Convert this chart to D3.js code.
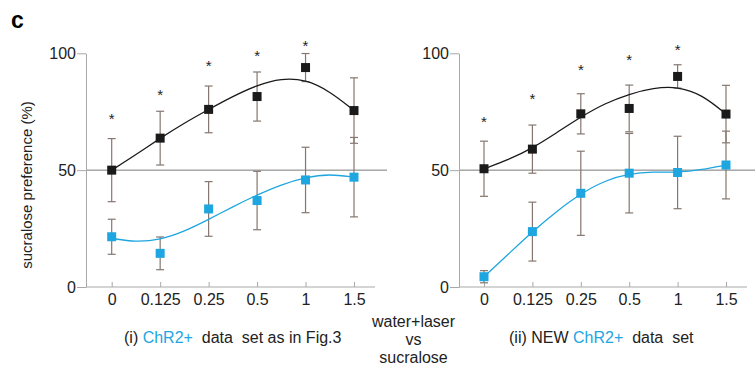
<!DOCTYPE html>
<html>
<head>
<meta charset="utf-8">
<script src="https://cdn.jsdelivr.net/npm/d3@7"></script>
<style>
  body { margin: 0; background: #fff; }
  svg { display: block; font-family: "Liberation Sans", Arial, sans-serif; }
</style>
</head>
<body>
<svg width="755" height="367"></svg>
<script>
// laser doses (x categories)
const doses = ['0', '0.125', '0.25', '0.5', '1', '1.5']

// panel (i): ChR2+ data set as in Fig.3
const blackI = [50, 63.7, 76, 81.5, 93.9, 75.5]
const blackIErr = [13.5, 11.5, 10, 10.5, 6, 14]
const blueI = [21.5, 14.4, 33.4, 37, 45.8, 47]
const blueIErr = [7.5, 7, 11.7, 12.5, 14, 17]
const starsI = [73.2, 83.6, 96, 100, 104.4]

// panel (ii): NEW ChR2+ data set
const blackII = [50.6, 59, 74.1, 76.4, 90.1, 74]
const blackIIErr = [11.8, 10.3, 8.6, 10, 5, 12.3]
const blueII = [4.4, 23.7, 40.1, 48.7, 49, 52.2]
const blueIIErr = [2.6, 12.6, 18, 17, 15.5, 14.5]
const starsII = [71.8, 81.8, 94.3, 98.4, 102.6]

const fitX = [0, 0.5, 1, 1.5, 2, 2.5, 3, 3.5, 4, 4.5, 5]
const blackFitI = [50, 56.6, 63.7, 70.2, 76, 81.6, 86.4, 89.3, 88.8, 83.8, 75.5]
const blueFitI = [20.8, 19.2, 20.2, 23.8, 28.9, 34.4, 39.4, 43.8, 47, 48.4, 47]
const blackFitII = [50.6, 54.4, 59.4, 66, 72.8, 78.6, 82.6, 85.2, 85.8, 82.4, 74]
const blueFitII = [4.4, 14, 23.7, 32.4, 40, 45.6, 48.5, 49.3, 49, 50.2, 52.2]

const yTicks = [0, 50, 100]

const svg = d3.select('svg')
const blue = '#1da6df'
const dark = '#1a1a1a'
const errColor = '#85776f'
const axisColor = '#a9a9a9'

const yScale = d3.scaleLinear().domain([0, 100]).range([287, 53.3])

// title letter
svg.append('text')
    .attr('x', 11).attr('y', 28)
    .attr('font-size', 23).attr('font-weight', 'bold')
    .text('c')

// y axis label
svg.append('text')
    .attr('transform', 'translate(32,185) rotate(-90)')
    .attr('text-anchor', 'middle')
    .attr('font-size', 15)
    .attr('fill', '#222')
    .text('sucralose preference (%)')

drawPanel({ axisX: 86, x0: 111.7, x1: 354, axisEnd: 375, refEnd: 387,
    black: blackI, blackErr: blackIErr, blue: blueI, blueErr: blueIErr,
    stars: starsI, blackFit: blackFitI, blueFit: blueFitI })
drawPanel({ axisX: 459, x0: 484, x1: 726, axisEnd: 747, refEnd: 755,
    black: blackII, blackErr: blackIIErr, blue: blueII, blueErr: blueIIErr,
    stars: starsII, blackFit: blackFitII, blueFit: blueFitII })

function drawPanel(p) {
    const xScale = d3.scaleLinear().domain([0, 5]).range([p.x0, p.x1])
    const g = svg.append('g')

    // 50% reference line
    g.append('line')
        .attr('x1', p.axisX).attr('x2', p.refEnd)
        .attr('y1', yScale(50)).attr('y2', yScale(50))
        .attr('stroke', '#7a7a7a').attr('stroke-width', 1)

    // y axis
    const yAxis = g.append('g')
        .attr('transform', `translate(${p.axisX},0)`)
        .call(d3.axisLeft(yScale).tickValues(yTicks).tickSize(9).tickSizeOuter(0).tickPadding(1))
    yAxis.selectAll('line, path').attr('stroke', axisColor)
    yAxis.selectAll('text').attr('font-size', 16).attr('font-family', null).attr('fill', '#222')

    // x axis
    g.append('line')
        .attr('x1', p.axisX).attr('x2', p.axisEnd)
        .attr('y1', yScale(0)).attr('y2', yScale(0))
        .attr('stroke', axisColor)
    const xAxis = g.append('g')
        .attr('transform', `translate(0,${yScale(0)})`)
        .call(d3.axisBottom(xScale).tickValues(d3.range(doses.length))
            .tickFormat(i => doses[i]).tickSize(-5).tickPadding(6.6))
    xAxis.select('.domain').remove()
    xAxis.selectAll('line').attr('stroke', axisColor)
    xAxis.selectAll('text').attr('font-size', 16).attr('font-family', null).attr('fill', '#222')

    // error bars
    const bars = []
    p.black.forEach((v, i) => bars.push({ i, v, e: p.blackErr[i] }))
    p.blue.forEach((v, i) => bars.push({ i, v, e: p.blueErr[i] }))
    const eb = g.selectAll('.err').data(bars).enter().append('g')
        .attr('stroke', errColor).attr('stroke-width', 1.2)
    eb.append('line')
        .attr('x1', d => xScale(d.i)).attr('x2', d => xScale(d.i))
        .attr('y1', d => yScale(d.v - d.e)).attr('y2', d => yScale(d.v + d.e))
    eb.append('line')
        .attr('x1', d => xScale(d.i) - 4).attr('x2', d => xScale(d.i) + 4)
        .attr('y1', d => yScale(d.v + d.e)).attr('y2', d => yScale(d.v + d.e))
    eb.append('line')
        .attr('x1', d => xScale(d.i) - 4).attr('x2', d => xScale(d.i) + 4)
        .attr('y1', d => yScale(d.v - d.e)).attr('y2', d => yScale(d.v - d.e))

    // fitted curves
    const line = d3.line()
        .x((d, i) => xScale(fitX[i]))
        .y(d => yScale(d))
        .curve(d3.curveBasis)
    g.append('path').datum(p.blackFit)
        .attr('d', line).attr('fill', 'none')
        .attr('stroke', dark).attr('stroke-width', 1.3)
    g.append('path').datum(p.blueFit)
        .attr('d', line).attr('fill', 'none')
        .attr('stroke', blue).attr('stroke-width', 1.3)

    // square markers
    const s = 9
    g.selectAll('.blk').data(p.black).enter().append('rect')
        .attr('x', (d, i) => xScale(i) - s / 2).attr('y', d => yScale(d) - s / 2)
        .attr('width', s).attr('height', s).attr('fill', dark)
    g.selectAll('.blu').data(p.blue).enter().append('rect')
        .attr('x', (d, i) => xScale(i) - s / 2).attr('y', d => yScale(d) - s / 2)
        .attr('width', s).attr('height', s).attr('fill', blue)

    // significance stars
    g.selectAll('.star').data(p.stars).enter().append('text')
        .attr('x', (d, i) => xScale(i)).attr('y', d => yScale(d) + 8)
        .attr('text-anchor', 'middle').attr('font-size', 15).attr('fill', '#222')
        .text('*')
}

// captions under the panels
function caption(x, parts) {
    const t = svg.append('text')
        .attr('x', x).attr('y', 343)
        .attr('font-size', 16).attr('fill', '#222')
        .style('white-space', 'pre')
    parts.forEach(pt => t.append('tspan').attr('fill', pt[1]).text(pt[0]))
}
caption(124, [['(i) ', '#222'], ['ChR2+', blue], ['  data  set as in Fig.3', '#222']])
caption(509, [['(ii) NEW ', '#222'], ['ChR2+', blue], ['  data  set', '#222']])

const middle = ['water+laser', 'vs', 'sucralose']
svg.selectAll('.mid').data(middle).enter().append('text')
    .attr('x', 413.5).attr('y', (d, i) => 327 + i * 18)
    .attr('text-anchor', 'middle').attr('font-size', 16).attr('fill', '#222')
    .text(d => d)
</script>
</body>
</html>
